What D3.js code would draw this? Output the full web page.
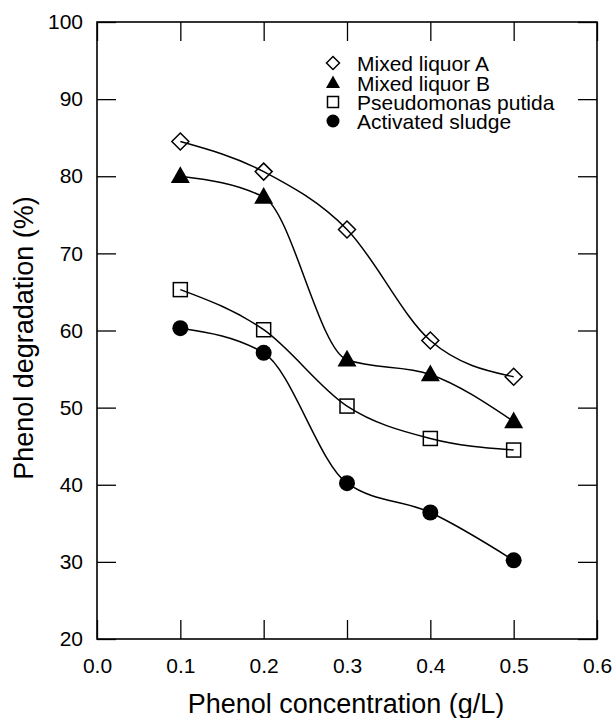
<!DOCTYPE html>
<html>
<head>
<meta charset="utf-8">
<script src="https://cdn.jsdelivr.net/npm/d3@7"></script>
<style>
  html, body { margin: 0; padding: 0; background: #fff; }
  svg { display: block; font-family: "Liberation Sans", Arial, Helvetica, sans-serif; }
</style>
</head>
<body>
<svg id="chart" width="613" height="718"></svg>
<script>
// Phenol concentration (g/L) at which degradation was measured
const concentrations = [0.1, 0.2, 0.3, 0.4, 0.5];

// Phenol degradation (%) for each inoculum
const mixedLiquorA = [84.5, 80.6, 73.1, 58.7, 54.0];
const mixedLiquorB = [80.0, 77.3, 56.2, 54.3, 48.2];
const pseudomonasPutida = [65.3, 60.1, 50.2, 46.0, 44.5];
const activatedSludge = [60.3, 57.1, 40.2, 36.4, 30.2];

const seriesNames = ["Mixed liquor A", "Mixed liquor B", "Pseudomonas putida", "Activated sludge"];
const xTicks = [0.0, 0.1, 0.2, 0.3, 0.4, 0.5, 0.6];
const yTicks = [20, 30, 40, 50, 60, 70, 80, 90, 100];

const series = [
  { name: seriesNames[0], values: mixedLiquorA, shape: "diamond" },
  { name: seriesNames[1], values: mixedLiquorB, shape: "triangle" },
  { name: seriesNames[2], values: pseudomonasPutida, shape: "square" },
  { name: seriesNames[3], values: activatedSludge, shape: "circle" }
];

const svg = d3.select("#chart");
const plot = { left: 97, right: 597, top: 22, bottom: 639 };

const x = d3.scaleLinear().domain([0, 0.6]).range([plot.left, plot.right]);
const y = d3.scaleLinear().domain([20, 100]).range([plot.bottom, plot.top]);

const tickLen = 19;
const fontTick = 21;

// Axes: ticks point inward on all four sides
const axisStyle = g => {
  g.select(".domain").remove();
  g.selectAll("line").attr("stroke", "#000").attr("stroke-width", 1.3);
  g.selectAll("text").attr("fill", "#000").style("font-size", fontTick + "px");
};

svg.append("g")
  .attr("transform", `translate(0,${plot.bottom})`)
  .call(d3.axisBottom(x).tickValues(xTicks).tickFormat(d3.format(".1f"))
    .tickSizeInner(-tickLen).tickSizeOuter(0).tickPadding(19))
  .call(axisStyle);

svg.append("g")
  .attr("transform", `translate(${plot.left},0)`)
  .call(d3.axisLeft(y).tickValues(yTicks).tickFormat(d3.format("d"))
    .tickSizeInner(-tickLen).tickSizeOuter(0).tickPadding(14))
  .call(axisStyle);

svg.append("g")
  .attr("transform", `translate(0,${plot.top})`)
  .call(d3.axisTop(x).tickValues(xTicks).tickFormat("")
    .tickSizeInner(-tickLen).tickSizeOuter(0))
  .call(axisStyle);

svg.append("g")
  .attr("transform", `translate(${plot.right},0)`)
  .call(d3.axisRight(y).tickValues(yTicks).tickFormat("")
    .tickSizeInner(-tickLen).tickSizeOuter(0))
  .call(axisStyle);

// Frame
svg.append("rect")
  .attr("x", plot.left).attr("y", plot.top)
  .attr("width", plot.right - plot.left).attr("height", plot.bottom - plot.top)
  .attr("fill", "none").attr("stroke", "#000").attr("stroke-width", 1.6);

// Axis titles
svg.append("text")
  .attr("x", (plot.left + plot.right) / 2 - 1).attr("y", 713)
  .attr("text-anchor", "middle").style("font-size", "27px")
  .text("Phenol concentration (g/L)");

svg.append("text")
  .attr("transform", `translate(33,338) rotate(-90)`)
  .attr("text-anchor", "middle").style("font-size", "27px")
  .text("Phenol degradation (%)");

// Marker drawing
function drawMarker(g, shape, size) {
  const s = size;
  if (shape === "diamond") {
    g.append("path")
      .attr("d", `M0,${-s / 2}L${s / 2},0L0,${s / 2}L${-s / 2},0Z`)
      .attr("fill", "none").attr("stroke", "#000").attr("stroke-width", 1.5);
  } else if (shape === "triangle") {
    const h = s * 0.88;
    g.append("path")
      .attr("d", `M0,${-h * 0.6}L${s / 2},${h * 0.4}L${-s / 2},${h * 0.4}Z`)
      .attr("fill", "#000");
  } else if (shape === "square") {
    g.append("rect")
      .attr("x", -s / 2).attr("y", -s / 2).attr("width", s).attr("height", s)
      .attr("fill", "none").attr("stroke", "#000").attr("stroke-width", 1.5);
  } else {
    g.append("circle").attr("r", s / 2).attr("fill", "#000");
  }
}

const markerSize = { diamond: 17, triangle: 19, square: 14, circle: 16 };
const legendSize = { diamond: 13, triangle: 14, square: 11, circle: 13 };

const line = d3.line()
  .x((d, i) => x(concentrations[i]))
  .y(d => y(d))
  .curve(d3.curveMonotoneX);

// Smooth curves
svg.append("g").selectAll("path")
  .data(series)
  .join("path")
  .attr("d", d => line(d.values))
  .attr("fill", "none").attr("stroke", "#000").attr("stroke-width", 1.5);

// Data markers
series.forEach(s => {
  s.values.forEach((v, i) => {
    const g = svg.append("g").attr("transform", `translate(${x(concentrations[i])},${y(v)})`);
    drawMarker(g, s.shape, markerSize[s.shape]);
  });
});

// Legend
const legend = svg.append("g");
const legendRows = [63, 83, 102, 121];
series.forEach((s, i) => {
  const g = legend.append("g").attr("transform", `translate(333,${legendRows[i]})`);
  drawMarker(g, s.shape, legendSize[s.shape]);
  g.append("text").attr("x", 24).attr("y", 7.5)
    .style("font-size", fontTick + "px").text(s.name);
});
</script>
</body>
</html>
